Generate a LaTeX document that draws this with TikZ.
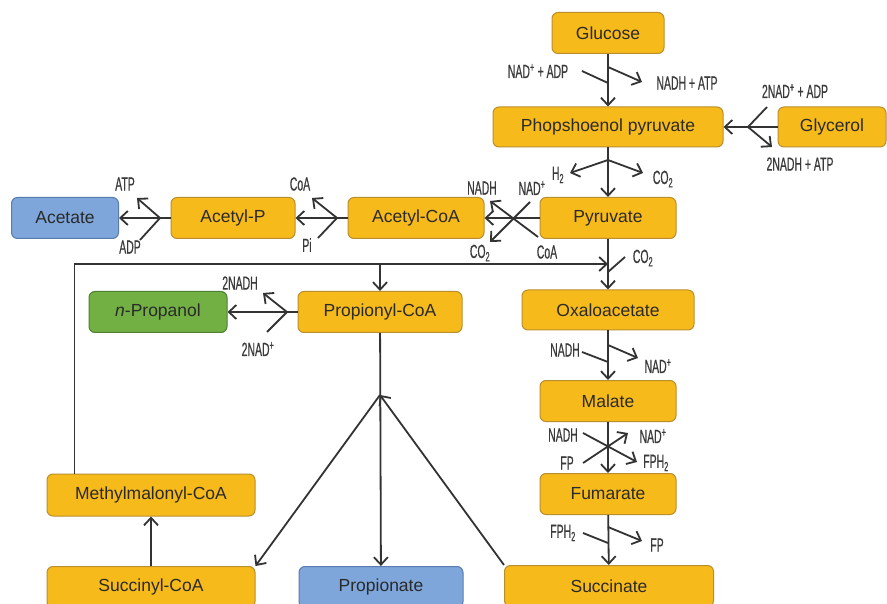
\documentclass[tikz,border=0pt]{standalone}
\usepackage{fontspec}
\setmainfont{Liberation Sans}
\newfontfamily\chemfont[FakeStretch=0.55,FakeBold=0.5]{Liberation Sans}
\usetikzlibrary{arrows.meta}

\definecolor{boxyellow}{HTML}{F7BA1B}
\definecolor{edgeyellow}{HTML}{B98F2C}
\definecolor{boxblue}{HTML}{7EA6DA}
\definecolor{edgeblue}{HTML}{5A7BAE}
\definecolor{boxgreen}{HTML}{72B043}
\definecolor{edgegreen}{HTML}{4E7F32}
\definecolor{ink}{HTML}{2A2A2A}
\definecolor{cofink}{HTML}{3A3A3A}
\definecolor{wire}{HTML}{333333}

\tikzset{
  metab/.style={draw=edgeyellow, fill=boxyellow, line width=1pt, rounded corners=6pt,
    text=ink, font=\fontsize{17.5}{20}\selectfont, inner sep=0pt},
  blueprod/.style={metab, draw=edgeblue, fill=boxblue},
  greenprod/.style={metab, draw=edgegreen, fill=boxgreen},
  cof/.style={text=cofink, font=\chemfont\fontsize{19}{21}\selectfont, inner sep=0pt},
  wireline/.style={draw=wire, line width=1.8pt},
  arr/.style={wireline, -{Straight Barb[length=7.5pt,width=14pt,line width=1.8pt]}},
}

\begin{document}
\begin{tikzpicture}[x=1pt, y=-1pt]
\useasboundingbox (0,0) rectangle (887,604);
\clip (0,0) rectangle (887,604);
\fill[white] (0,0) rectangle (887,604);

% metabolites
\node[metab, minimum width=112pt, minimum height=41pt] (glucose)    at (608,33)  {Glucose};
\node[metab, minimum width=230pt, minimum height=40pt] (pep)        at (608,127) {Phopshoenol pyruvate};
\node[metab, minimum width=108pt, minimum height=40pt] (glycerol)   at (832,127) {Glycerol};
\node[metab, minimum width=136pt, minimum height=41pt] (pyruvate)   at (608,218) {Pyruvate};
\node[metab, minimum width=136pt, minimum height=41pt] (acoa)       at (416,218) {Acetyl-CoA};
\node[metab, minimum width=124pt, minimum height=41pt] (acp)        at (233,218) {Acetyl-P};
\node[blueprod, minimum width=107pt, minimum height=41pt] (acetate) at (65,218)  {Acetate};
\node[metab, minimum width=172pt, minimum height=40pt] (oxalo)      at (608,310) {Oxaloacetate};
\node[metab, minimum width=164pt, minimum height=41pt] (propcoa)    at (380,312) {Propionyl-CoA};
\node[greenprod, minimum width=138pt, minimum height=41pt] (propanol) at (158,312) {\textit{n}-Propanol};
\node[metab, minimum width=136pt, minimum height=41pt] (malate)     at (608,401) {Malate};
\node[metab, minimum width=136pt, minimum height=41pt] (fumarate)   at (608,494) {Fumarate};
\node[metab, minimum width=208pt, minimum height=42pt] (methyl)     at (151,495) {Methylmalonyl-CoA};
\node[metab, minimum width=208pt, minimum height=41pt] (succoa)     at (151,587) {Succinyl-CoA};
\node[blueprod, minimum width=164pt, minimum height=41pt] (propionate) at (381,587) {Propionate};
\node[metab, minimum width=209pt, minimum height=41pt] (succinate)  at (609,586) {Succinate};

% glucose -> phosphoenol pyruvate
\draw[arr] (glucose) -- (pep);
\coordinate (gIn) at (582,71);  \coordinate (gJ) at (608,83);
\coordinate (gO) at (608,67);   \coordinate (gOut) at (642,82);
\draw[wireline] (gIn) -- (gJ);
\draw[arr] (gO) -- (gOut);
\node[cof] (gl1) at (538,71) {NAD\textsuperscript{+} + ADP};
\node[cof] (gl2) at (687,83) {NADH + ATP};

% glycerol -> phosphoenol pyruvate
\draw[arr] (glycerol) -- (pep);
\coordinate (yJ) at (748,127);
\coordinate (yIn) at (767,107); \coordinate (yOut) at (772,147);
\draw[wireline] (yIn) -- (yJ);
\draw[arr] (yJ) -- (yOut);
\node[cof] (yl1) at (795,91)  {2NAD\textsuperscript{+} + ADP};
\node[cof] (yl2) at (800,164) {2NADH + ATP};

% phosphoenol pyruvate -> pyruvate
\draw[arr] (pep) -- (pyruvate);
\coordinate (pJ) at (608,160);
\coordinate (pH) at (570,173); \coordinate (pC) at (643,173);
\draw[arr] (pJ) -- (pH);
\draw[arr] (pJ) -- (pC);
\node[cof] (pl1) at (558,175) {H\textsubscript{2}};
\node[cof] (pl2) at (663,179) {CO\textsubscript{2}};

% pyruvate -> acetyl-CoA
\draw[arr] (pyruvate) -- (acoa);
\coordinate (aIn1) at (530,202); \coordinate (aOut1) at (490,242);
\coordinate (aIn2) at (538,237); \coordinate (aOut2) at (490,201);
\draw[arr] (aIn1) -- (aOut1);
\draw[arr] (aIn2) -- (aOut2);
\node[cof] (al1) at (482,188) {NADH};
\node[cof] (al2) at (532,188) {NAD\textsuperscript{+}};
\node[cof] (al3) at (480,253) {CO\textsubscript{2}};
\node[cof] (al4) at (547,252) {CoA};

% acetyl-CoA -> acetyl-P
\draw[arr] (acoa) -- (acp);
\coordinate (cJ) at (337,218);
\coordinate (cOut) at (312,198); \coordinate (cIn) at (318,238);
\draw[arr] (cJ) -- (cOut);
\draw[wireline] (cIn) -- (cJ);
\node[cof] (cl1) at (300,184) {CoA};
\node[cof] (cl2) at (307,245) {Pi};

% acetyl-P -> acetate
\draw[arr] (acp) -- (acetate);
\coordinate (tJ) at (160,218);
\coordinate (tOut) at (137,198); \coordinate (tIn) at (140,240);
\draw[arr] (tJ) -- (tOut);
\draw[wireline] (tIn) -- (tJ);
\node[cof] (tl1) at (125,184) {ATP};
\node[cof] (tl2) at (130,247) {ADP};

% pyruvate -> oxaloacetate
\draw[arr] (pyruvate) -- (oxalo);
\coordinate (oIn) at (625,257); \coordinate (oJ) at (608,272);
\draw[wireline] (oIn) -- (oJ);
\node[cof] (ol1) at (643,258) {CO\textsubscript{2}};

% methylmalonyl-CoA loop back
\coordinate (mTop) at ([xshift=28pt]methyl.north west);
\coordinate (mCorner) at (mTop |- 0,264);
\draw[arr] (mTop) -- (mCorner) -- (pyruvate.south |- mCorner);
\draw[arr] (propcoa.north |- mCorner) -- (propcoa.north);

% propionyl-CoA -> n-propanol
\draw[arr] (propcoa) -- (propanol);
\coordinate (nJ) at (287,312);
\coordinate (nOut) at (263,293); \coordinate (nIn) at (267,332);
\draw[arr] (nJ) -- (nOut);
\draw[wireline] (nIn) -- (nJ);
\node[cof] (nl1) at (240,283) {2NADH};
\node[cof] (nl2) at (258,349) {2NAD\textsuperscript{+}};

% oxaloacetate -> malate
\draw[arr] (oxalo) -- (malate);
\coordinate (mIn) at (582,352); \coordinate (mJ) at (608,362);
\coordinate (mO) at (608,345);  \coordinate (mOut) at (638,358);
\draw[wireline] (mIn) -- (mJ);
\draw[arr] (mO) -- (mOut);
\node[cof] (ml1) at (565,350) {NADH};
\node[cof] (ml2) at (658,366) {NAD\textsuperscript{+}};

% malate -> fumarate
\draw[arr] (malate) -- (fumarate);
\coordinate (fIn1) at (583,433); \coordinate (fOut1) at (637,462);
\coordinate (fIn2) at (583,463); \coordinate (fOut2) at (628,433);
\draw[arr] (fIn1) -- (fOut1);
\draw[arr] (fIn2) -- (fOut2);
\node[cof] (fl1) at (563,435) {NADH};
\node[cof] (fl2) at (653,436) {NAD\textsuperscript{+}};
\node[cof] (fl3) at (567,463) {FP};
\node[cof] (fl4) at (656,463) {FPH\textsubscript{2}};

% fumarate -> succinate
\draw[arr] (fumarate) -- (succinate);
\coordinate (sIn) at (583,533); \coordinate (sJ) at (608,543);
\coordinate (sO) at (608,527);  \coordinate (sOut) at (642,541);
\draw[wireline] (sIn) -- (sJ);
\draw[arr] (sO) -- (sOut);
\node[cof] (sl1) at (563,533) {FPH\textsubscript{2}};
\node[cof] (sl2) at (657,545) {FP};

% propionate branch
\coordinate (jc) at (380,395);
\draw[arr] (propcoa) -- (propionate);
\draw[arr] (succinate.north west) -- (jc);
\draw[arr] (jc) -- (succoa.north east);
\draw[arr] (succoa) -- (methyl);
\end{tikzpicture}
\end{document}
